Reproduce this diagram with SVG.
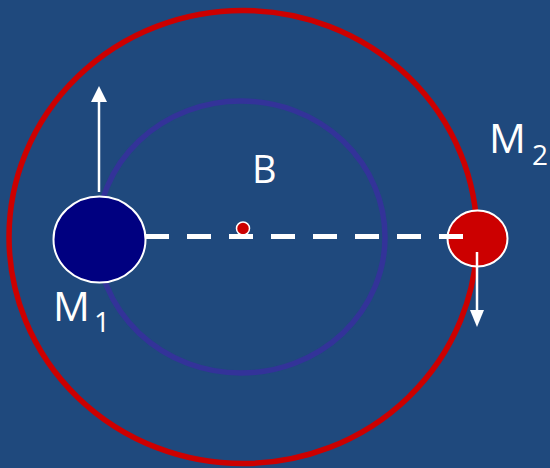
<svg xmlns="http://www.w3.org/2000/svg" width="550" height="468" viewBox="0 0 550 468">
  <style>
    .orbit { fill: none; }
    .body { stroke: #ffffff; stroke-width: 2; }
    .lbl { font-family: "Open Sans", "Liberation Sans", sans-serif; fill: #ffffff; }
    .big { font-size: 41px; }
    .sub { font-size: 28px; }
    .arrow { stroke: #ffffff; stroke-width: 2.5; fill: none; }
    .head { fill: #ffffff; }
  </style>
  <rect width="550" height="468" fill="#1f497d"/>
  <g id="orbit-m2">
    <ellipse class="orbit" cx="243" cy="237" rx="234" ry="226.5" stroke="#cc0000" stroke-width="5.5"/>
  </g>
  <g id="orbit-m1">
    <ellipse class="orbit" cx="241" cy="237" rx="144" ry="136" stroke="#333399" stroke-width="5.5"/>
  </g>
  <g id="M1">
    <ellipse class="body" cx="99.5" cy="239.5" rx="46" ry="43" fill="#000080"/>
  </g>
  <g id="M2">
    <ellipse class="body" cx="477.5" cy="238.5" rx="30" ry="28" fill="#cc0000"/>
  </g>
  <g id="B">
    <circle cx="243" cy="228.5" r="6.5" fill="#cc0000" stroke="#ffffff" stroke-width="1.5"/>
  </g>
  <g id="connectors">
    <line x1="145" y1="236.5" x2="463" y2="236.5" stroke="#ffffff" stroke-width="5" stroke-dasharray="24 18"/>
    <line class="arrow" x1="99" y1="192" x2="99" y2="100"/>
    <polygon class="head" points="99,86 91,102 107,102"/>
    <line class="arrow" x1="477" y1="252" x2="477" y2="312"/>
    <polygon class="head" points="477,327 470,310 484,310"/>
  </g>
  <g id="labels">
    <text class="lbl" x="252" y="183" style="font-size:38px">B</text>
    <text class="lbl big" x="53" y="321">M</text>
    <text class="lbl sub" x="94" y="332">1</text>
    <text class="lbl big" x="489" y="153">M</text>
    <text class="lbl sub" x="532" y="165">2</text>
  </g>
</svg>
